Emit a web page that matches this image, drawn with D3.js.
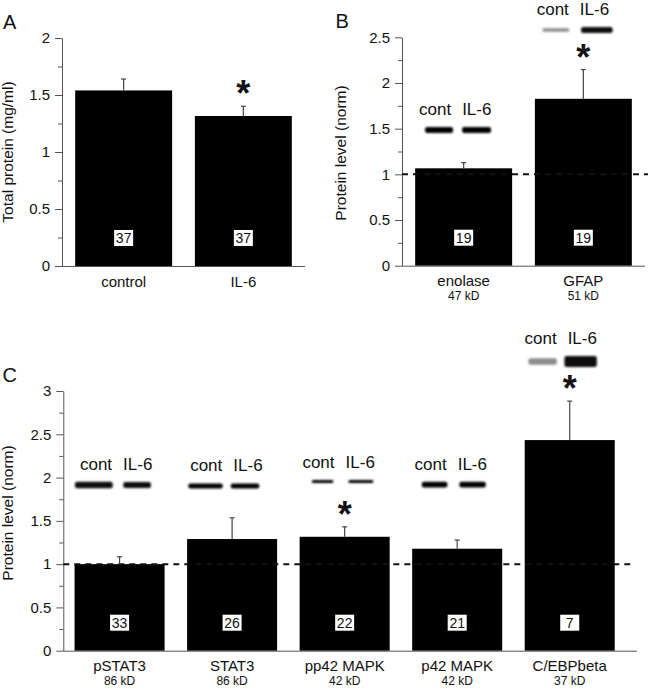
<!DOCTYPE html>
<html><head><meta charset="utf-8">
<script src="https://cdn.jsdelivr.net/npm/d3@7"></script>
<style>
body{margin:0;background:#fff}
svg{display:block}
text{font-family:"Liberation Sans",Arial,Helvetica,sans-serif;fill:#111}
</style>
</head><body>
<svg id="chart" width="650" height="690"></svg>
<script>
// ---------- DATA ----------
const catsA = ["control", "IL-6"];
const valuesA = [1.54, 1.316];
const errA = [0.10, 0.085];
const nA = [37, 37];
const sigA = [false, true];
const ticksA = [0, 0.5, 1, 1.5, 2];

const catsB = ["enolase", "GFAP"];
const kdB = ["47 kD", "51 kD"];
const valuesB = [1.066, 1.827];
const errB = [0.062, 0.32];
const nB = [19, 19];
const sigB = [false, true];
const ticksB = [0, 0.5, 1, 1.5, 2, 2.5];

const catsC = ["pSTAT3", "STAT3", "pp42 MAPK", "p42 MAPK", "C/EBPbeta"];
const kdC = ["86 kD", "86 kD", "42 kD", "42 kD", "37 kD"];
const valuesC = [1.0, 1.29, 1.316, 1.178, 2.433];
const errC = [0.085, 0.245, 0.115, 0.10, 0.45];
const nC = [33, 26, 22, 21, 7];
const sigC = [false, false, true, false, true];
const ticksC = [0, 0.5, 1, 1.5, 2, 2.5, 3];

const blotLabels = ["cont", "IL-6"];

// ---------- LAYOUT (western blot insets, pixel offsets from bar centre) ----------
const blotsB = [
  {level: 1.485, gap: -7, lanes: [{x0: -38.6, x1: -10.6, h: 6, op: 1}, {x0: -1.6, x1: 27.4, h: 6, op: 1}]},
  {level: 2.58, gap: -9, lanes: [{x0: -41, x1: -14, h: 3.5, op: 0.45}, {x0: -2.3, x1: 29.3, h: 6, op: 0.95}]}
];
const blotsC = [
  {level: 1.913, gap: -2, lanes: [{x0: -44.6, x1: -6.9, h: 6.5, op: 0.95}, {x0: 3.7, x1: 31.4, h: 6, op: 0.95}]},
  {level: 1.904, gap: -4.3, lanes: [{x0: -43.8, x1: -9.4, h: 5, op: 1}, {x0: -1.4, x1: 27.2, h: 5, op: 1}]},
  {level: 1.954, gap: -4.6, lanes: [{x0: -32.9, x1: -11.3, h: 3, op: 1}, {x0: 3.7, x1: 28.7, h: 3, op: 1}]},
  {level: 1.919, gap: -5, lanes: [{x0: -35.4, x1: -9.8, h: 5.7, op: 1}, {x0: 2.2, x1: 28.6, h: 5.7, op: 1}]},
  {level: 3.34, gap: -7.6, lanes: [{x0: -41.3, x1: -12.9, h: 6.5, op: 0.45}, {x0: -5.3, x1: 27.1, h: 11, op: 0.95}]}
];

const svg = d3.select("#chart");
const defs = svg.append("defs");
defs.append("filter").attr("id", "blur").attr("x", "-20%").attr("y", "-100%").attr("width", "140%").attr("height", "300%")
  .append("feGaussianBlur").attr("stdDeviation", 0.8);

const AX = "#555";

function panel(o) {
  const g = svg.append("g");
  const x = d3.scaleBand().domain(o.cats).range(o.xr).paddingInner(o.pi).paddingOuter(o.po);
  const y = d3.scaleLinear().domain([0, d3.max(o.ticks)]).range(o.yr);
  const x0 = o.xr[0], y0 = o.yr[0];

  // minor ticks
  const minor = d3.range(0, d3.max(o.ticks) + 0.001, 0.25).filter(v => !o.ticks.includes(v));
  const gm = g.append("g").attr("transform", `translate(${x0},0)`)
    .call(d3.axisLeft(y).tickValues(minor).tickSize(4).tickFormat(""));
  gm.select(".domain").remove();
  gm.selectAll("line").attr("stroke", AX);
  // major
  const ga = g.append("g").attr("transform", `translate(${x0},0)`)
    .call(d3.axisLeft(y).tickValues(o.ticks).tickSize(7).tickSizeOuter(0).tickPadding(5).tickFormat(d3.format("")));
  ga.select(".domain").attr("stroke", AX);
  ga.selectAll("line").attr("stroke", AX);
  ga.selectAll("text").attr("font-size", 15).attr("fill", "#111").style("font-family", '"Liberation Sans",Arial,sans-serif');

  // bars
  g.selectAll("rect.bar").data(o.values).join("rect").attr("class", "bar")
    .attr("x", (d, i) => x(o.cats[i])).attr("width", x.bandwidth())
    .attr("y", d => y(d)).attr("height", d => y(0) - y(d)).attr("fill", "#000");

  // reference line
  if (o.ref) {
    g.append("line").attr("x1", x0).attr("x2", o.refEnd).attr("y1", y(1)).attr("y2", y(1))
      .attr("stroke", "#111").attr("stroke-width", 2).attr("stroke-dasharray", "6,5");
  }

  // x axis line
  g.append("line").attr("x1", x0).attr("x2", o.axisEnd).attr("y1", y0 + 0.5).attr("y2", y0 + 0.5)
    .attr("stroke", AX);

  // error bars
  o.values.forEach((v, i) => {
    const cx = x(o.cats[i]) + x.bandwidth() / 2;
    const top = y(v + o.errs[i]);
    g.append("line").attr("x1", cx).attr("x2", cx).attr("y1", y(v)).attr("y2", top).attr("stroke", "#444").attr("stroke-width", 1.2);
    g.append("line").attr("x1", cx - 2.5).attr("x2", cx + 2.5).attr("y1", top).attr("y2", top).attr("stroke", "#444").attr("stroke-width", 1.2);
    if (o.sigs[i]) {
      g.append("text").attr("x", cx).attr("y", top).attr("text-anchor", "middle")
        .attr("font-size", 36).attr("font-weight", "bold").attr("fill", "#000").text("*");
    }
    // n box
    g.append("rect").attr("x", cx - 9.5).attr("y", y0 - 36).attr("width", 19).attr("height", 16).attr("fill", "#fff");
    g.append("text").attr("x", cx).attr("y", y0 - 23).attr("text-anchor", "middle").attr("font-size", 14).attr("fill", "#000").text(o.ns[i]);
    // category labels
    g.append("text").attr("x", cx).attr("y", y0 + 20.5).attr("text-anchor", "middle").attr("font-size", 15).text(o.cats[i]);
    if (o.kd) g.append("text").attr("x", cx).attr("y", y0 + 34.5).attr("text-anchor", "middle").attr("font-size", 12).text(o.kd[i]);
  });

  // blots
  if (o.blots) {
    o.blots.forEach((b, i) => {
      const cx = x(o.cats[i]) + x.bandwidth() / 2;
      const by = y(b.level);
      const hmax = d3.max(b.lanes, l => l.h);
      const ty = by - hmax / 2 - 12;
      g.append("text").attr("x", cx + b.gap - 5.5).attr("y", ty).attr("text-anchor", "end").attr("font-size", 17).text(blotLabels[0]);
      g.append("text").attr("x", cx + b.gap + 5.5).attr("y", ty).attr("text-anchor", "start").attr("font-size", 17).text(blotLabels[1]);
      b.lanes.forEach(l => {
        g.append("rect").attr("x", cx + l.x0).attr("width", l.x1 - l.x0)
          .attr("y", by - l.h / 2).attr("height", l.h).attr("rx", Math.min(l.h / 2, 2))
          .attr("fill", "#000").attr("fill-opacity", l.op).attr("filter", "url(#blur)");
      });
    });
  }

  // y label
  g.append("text").attr("transform", `translate(${o.ylx},${o.yly}) rotate(-90)`).attr("text-anchor", "middle")
    .attr("font-size", 15.5).text(o.ylabel);
  // panel letter
  g.append("text").attr("x", o.lx).attr("y", o.ly).attr("font-size", 20).text(o.letter);
}

panel({cats: catsA, values: valuesA, errs: errA, ns: nA, sigs: sigA, ticks: ticksA,
  xr: [62, 305], yr: [266, 38], pi: 0.19, po: 0.11, axisEnd: 305, ref: false,
  ylabel: "Total protein (mg/ml)", ylx: 13, yly: 152, letter: "A", lx: 3, ly: 29});

panel({cats: catsB, kd: kdB, values: valuesB, errs: errB, ns: nB, sigs: sigB, ticks: ticksB,
  xr: [402, 645], yr: [265.7, 37.3], pi: 0.19, po: 0.11, axisEnd: 645, ref: true, refEnd: 648, blots: blotsB,
  ylabel: "Protein level (norm)", ylx: 346, yly: 153, letter: "B", lx: 335.5, ly: 28});

panel({cats: catsC, kd: kdC, values: valuesC, errs: errC, ns: nC, sigs: sigC, ticks: ticksC,
  xr: [63.3, 626], yr: [650.7, 391], pi: 0.2, po: 0.1, axisEnd: 637, ref: true, refEnd: 634, blots: blotsC,
  ylabel: "Protein level (norm)", ylx: 13, yly: 513, letter: "C", lx: 2.5, ly: 381.5});
</script>
</body></html>
